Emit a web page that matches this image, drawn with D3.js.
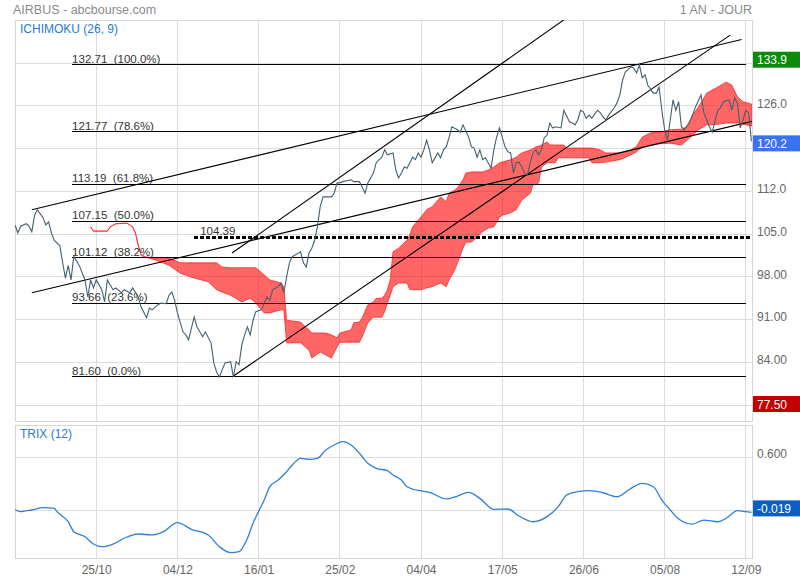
<!DOCTYPE html>
<html>
<head>
<meta charset="utf-8">
<script src="https://cdn.jsdelivr.net/npm/d3@7"></script>
<style>
  body { margin: 0; background: #fff; }
  svg text { font-family: Arial, "Liberation Sans", sans-serif; }
</style>
</head>
<body>
<div class="graph"></div>
<script>
const w = 800;
const h = 580;
const left = 15, right = 752;
const main = {top: 20, bottom: 421};
const low = {top: 425, bottom: 558};

// daily closes: [trading day, price]
const closes = [[0,106.5],[1,105.2],[2,106.3],[4,106.7],[5,106.3],[6,105.4],[7,108.1],[8,109.0],[10,107.7],[11,106.5],[12,107.0],[13,105.2],[14,104.0],[16,103.1],[17,100.4],[18,97.8],[19,99.9],[20,97.5],[21,101.4],[23,99.8],[25,97.5],[26,94.7],[27,97.5],[28,96.2],[29,97.5],[31,95.9],[32,93.9],[33,97.5],[35,95.9],[36,96.2],[38,95.4],[39,95.9],[41,95.4],[42,96.2],[44,94.7],[45,93.1],[47,91.3],[48,92.9],[49,92.6],[51,93.4],[52,93.7],[54,93.6],[55,95.0],[56,95.5],[57,94.2],[58,92.1],[60,89.0],[61,88.5],[62,87.7],[63,89.6],[64,91.4],[65,89.8],[67,88.2],[68,89.0],[70,87.2],[71,83.9],[72,82.4],[73,81.6],[74,82.8],[75,83.9],[77,84.1],[78,81.6],[79,84.1],[80,83.6],[81,86.9],[82,88.5],[83,89.8],[84,88.5],[85,90.9],[86,92.3],[88,92.6],[89,93.7],[90,94.7],[91,94.2],[92,95.9],[94,96.4],[95,97.0],[96,95.4],[97,98.0],[98,100.3],[99,101.3],[102,102.1],[103,100.3],[104,99.6],[105,101.9],[106,102.7],[107,104.0],[108,106.2],[109,109.5],[110,111.1],[113,111.1],[114,111.7],[115,113.4],[116,113.4],[117,113.6],[120,113.9],[121,113.6],[123,113.6],[124,112.7],[125,111.7],[126,113.4],[128,115.0],[129,116.7],[130,117.2],[131,117.6],[132,118.8],[133,118.0],[135,118.3],[136,115.5],[137,114.2],[138,115.0],[139,116.0],[140,115.8],[141,116.7],[142,117.6],[143,117.2],[144,118.3],[145,117.6],[146,118.8],[147,120.4],[148,118.8],[149,116.7],[151,118.3],[152,117.5],[153,118.8],[154,119.3],[155,120.8],[156,122.6],[158,122.1],[159,121.7],[160,122.9],[162,120.9],[163,119.3],[164,119.1],[165,117.6],[166,118.8],[167,117.2],[168,117.5],[170,115.8],[171,118.8],[172,120.9],[173,122.4],[174,120.9],[175,119.3],[176,118.5],[177,118.3],[178,115.0],[179,116.7],[180,116.8],[181,116.0],[182,115.0],[183,114.7],[184,116.7],[185,118.3],[186,118.8],[187,118.0],[188,118.8],[189,120.8],[190,121.2],[191,123.2],[192,122.4],[193,122.6],[195,122.4],[196,125.3],[198,123.4],[199,123.2],[200,122.9],[201,123.7],[202,125.3],[203,125.0],[204,124.0],[205,124.5],[206,124.0],[208,125.3],[209,124.9],[210,124.2],[211,123.7],[212,124.5],[214,125.7],[215,126.5],[216,127.8],[217,130.3],[218,131.6],[220,132.4],[221,132.2],[222,131.4],[223,132.7],[224,130.6],[225,131.1],[226,129.4],[228,128.1],[229,128.1],[230,129.1],[231,125.3],[232,122.1],[233,120.4],[234,123.7],[235,127.0],[236,125.3],[237,126.7],[238,122.6],[239,122.1],[241,123.4],[243,125.8],[245,127.8],[246,124.9],[248,122.6],[249,121.7],[251,125.3],[252,125.7],[253,126.7],[255,127.0],[256,125.3],[257,127.3],[258,126.5],[259,122.4],[260,123.7],[261,125.3],[262,124.9],[263,120.2]];

// ichimoku cloud: [day, upper span, lower span]
const cloud = [[27,106.2,106.2],[28,105.5,105.5],[33,105.5,105.5],[34,106.2,106.2],[36,106.7,106.7],[40,106.8,106.8],[42,106.2,106.2],[43,105.2,105.2],[44,103.2,103.2],[45,101.6,101.6],[46,101.3,101.3],[50,101.1,100.8],[55,101.1,99.9],[59,100.3,98.6],[64,100.3,97.8],[69,100.3,97.2],[72,100.3,95.9],[74,99.6,95.5],[77,99.5,95.0],[81,99.5,93.9],[84,99.5,94.5],[86,99.5,93.7],[89,98.3,92.1],[91,97.5,92.1],[95,97.0,92.6],[96,96.4,92.6],[97,90.9,87.2],[102,90.6,87.2],[103,90.1,86.8],[105,89.3,86.0],[106,88.8,84.7],[109,88.8,85.7],[111,88.8,85.2],[113,88.5,84.7],[115,88.0,86.5],[116,88.8,87.3],[120,89.3,87.3],[121,90.5,87.3],[123,90.6,87.3],[124,91.3,88.2],[126,93.4,90.5],[128,93.9,91.4],[129,94.5,91.4],[131,94.5,91.4],[132,95.0,92.3],[133,95.9,93.7],[134,97.5,95.0],[135,102.1,96.4],[137,102.7,97.0],[139,103.6,97.0],[140,104.0,97.0],[141,104.9,95.9],[142,106.2,95.9],[145,107.8,95.9],[147,109.0,96.2],[149,109.5,96.4],[152,111.1,97.0],[154,110.3,96.4],[155,111.7,97.5],[157,112.2,99.1],[158,112.6,100.3],[160,113.9,102.7],[161,115.0,103.7],[163,115.2,103.7],[165,115.2,104.5],[167,115.2,105.4],[169,115.5,106.0],[171,116.0,106.2],[173,116.7,107.7],[174,116.8,108.1],[177,117.2,108.5],[179,117.6,109.0],[180,118.0,109.8],[181,118.3,110.6],[184,118.8,111.7],[185,119.0,113.1],[186,119.3,113.1],[187,119.4,113.4],[188,119.6,116.0],[190,120.1,116.7],[191,119.6,116.7],[193,119.6,116.7],[194,119.6,117.5],[196,119.6,117.5],[197,119.1,117.5],[205,119.1,117.5],[206,119.1,116.7],[209,118.8,116.7],[211,118.3,116.8],[216,118.3,117.2],[220,118.8,118.0],[222,119.4,118.5],[224,120.9,119.3],[227,121.6,119.6],[230,121.7,119.8],[234,122.1,119.9],[238,122.2,119.6],[240,122.6,120.4],[242,124.5,121.2],[244,125.8,122.1],[246,127.3,122.6],[247,128.1,122.9],[251,129.1,123.0],[254,129.9,123.2],[256,129.4,123.2],[258,127.5,123.2],[260,126.7,123.0],[263,126.3,122.7]];

// TRIX (12): [day, value]
const trix = [[0,0.01],[2,-0.011],[4,0.0],[6,0.008],[10,0.034],[14,0.027],[15,-0.011],[19,-0.124],[21,-0.236],[25,-0.292],[28,-0.375],[31,-0.405],[35,-0.375],[39,-0.31],[44,-0.262],[49,-0.273],[53,-0.236],[58,-0.135],[63,-0.209],[69,-0.273],[73,-0.405],[77,-0.472],[80,-0.461],[83,-0.31],[85,-0.142],[89,0.12],[91,0.27],[94,0.345],[97,0.438],[99,0.514],[102,0.589],[105,0.578],[108,0.589],[111,0.683],[114,0.739],[117,0.776],[120,0.739],[123,0.646],[126,0.533],[129,0.477],[133,0.45],[135,0.402],[138,0.345],[140,0.27],[145,0.222],[148,0.207],[154,0.132],[158,0.165],[162,0.207],[166,0.139],[171,0.016],[176,0.019],[180,-0.06],[185,-0.124],[190,-0.067],[194,0.045],[197,0.177],[201,0.214],[205,0.225],[210,0.202],[215,0.157],[220,0.252],[224,0.308],[228,0.27],[231,0.12],[234,0.008],[237,-0.093],[242,-0.15],[246,-0.105],[251,-0.124],[254,-0.085],[258,0.0],[261,-0.011],[263,-0.019]];

const fibLevels = [132.71, 121.77, 113.19, 107.15, 101.12, 93.66, 81.60];
const fibPcts = ["100.0%", "78.6%", "61.8%", "50.0%", "38.2%", "23.6%", "0.0%"];
const fibSpan = [20.4, 261];

const support = 104.39;
const supportFrom = 64;

// trend lines: [[day, price], [day, price]]
const trendLines = [
  [[6, 109.0], [259.5, 136.9]],
  [[6, 95.4], [263.4, 123.5]],
  [[77.5, 81.6], [255.4, 137.6]],
  [[77.5, 101.9], [205, 143.0]]
];

const tickDays = [29, 58, 87, 116, 145, 174, 203, 232, 261];
const tickLabels = ["25/10", "04/12", "16/01", "25/02", "04/04", "17/05", "26/06", "05/08", "12/09"];
const priceGrid = [77, 84, 91, 98, 105, 112, 119, 126, 133];
const priceLabels = [84, 91, 98, 105, 112, 126];
const trixGrid = [0, 0.6];
const trixLabels = [0.6];

const boxes = [
  {v: 133.9, text: "133.9", color: "#0c8a0c"},
  {v: 120.2, text: "120.2", color: "#3a72f2"},
  {v: 77.5, text: "77.50", color: "#c20000"}
];
const trixBox = {v: -0.019, text: "-0.019", color: "#0b5ec6"};

const x = d3.scaleLinear().domain([0, 263.2]).range([left, right]);
const y = d3.scaleLinear().domain([74.39, 140.08]).range([main.bottom, main.top]);
const yt = d3.scaleLinear().domain([-0.532, 0.964]).range([low.bottom, low.top]);

const canvas = d3.select(".graph")
                 .append("svg")
                 .attr("width", w)
                 .attr("height", h);

const defs = canvas.append("defs");
defs.append("clipPath").attr("id", "clipMain")
    .append("rect").attr("x", left).attr("y", main.top)
    .attr("width", right - left).attr("height", main.bottom - main.top);
defs.append("clipPath").attr("id", "clipLow")
    .append("rect").attr("x", left).attr("y", low.top)
    .attr("width", right - left).attr("height", low.bottom - low.top);

// header
canvas.append("text").attr("x", 13).attr("y", 14)
      .attr("fill", "#8a8a8a").attr("font-size", 12.5)
      .text("AIRBUS - abcbourse.com");
canvas.append("text").attr("x", right).attr("y", 14)
      .attr("text-anchor", "end")
      .attr("fill", "#8a8a8a").attr("font-size", 12.5)
      .text("1 AN - JOUR");

// grids
const grid = canvas.append("g")
                   .attr("stroke", "#dcdcdc").attr("stroke-width", 1)
                   .attr("shape-rendering", "crispEdges");
grid.selectAll(".vm").data(tickDays).enter().append("line")
    .attr("x1", d => x(d)).attr("x2", d => x(d))
    .attr("y1", main.top).attr("y2", main.bottom);
grid.selectAll(".vl").data(tickDays).enter().append("line")
    .attr("x1", d => x(d)).attr("x2", d => x(d))
    .attr("y1", low.top).attr("y2", low.bottom);
grid.selectAll(".hm").data(priceGrid).enter().append("line")
    .attr("x1", left).attr("x2", right)
    .attr("y1", d => y(d)).attr("y2", d => y(d));
grid.selectAll(".hl").data(trixGrid).enter().append("line")
    .attr("x1", left).attr("x2", right)
    .attr("y1", d => yt(d)).attr("y2", d => yt(d));

canvas.append("rect").attr("x", left).attr("y", main.top)
      .attr("width", right - left).attr("height", main.bottom - main.top)
      .attr("fill", "none").attr("stroke", "#d6d6d6")
      .attr("shape-rendering", "crispEdges");
canvas.append("rect").attr("x", left).attr("y", low.top)
      .attr("width", right - left).attr("height", low.bottom - low.top)
      .attr("fill", "none").attr("stroke", "#d6d6d6")
      .attr("shape-rendering", "crispEdges");

const plot = canvas.append("g").attr("clip-path", "url(#clipMain)");

// cloud
const area = d3.area()
               .x(d => x(d[0]))
               .y0(d => y(d[2]))
               .y1(d => y(d[1]));
plot.append("path")
    .datum(cloud)
    .attr("d", area)
    .attr("fill", "rgba(255,0,0,0.6)")
    .attr("stroke", "rgba(255,30,30,0.75)")
    .attr("stroke-width", 1);

// fibonacci retracement
plot.selectAll(".fib").data(fibLevels).enter().append("line")
    .attr("x1", x(fibSpan[0])).attr("x2", x(fibSpan[1]))
    .attr("y1", d => y(d)).attr("y2", d => y(d))
    .attr("stroke", "#000").attr("stroke-width", 1)
    .attr("shape-rendering", "crispEdges");
plot.selectAll(".fibtxt").data(fibLevels).enter().append("text")
    .attr("x", x(fibSpan[0]))
    .attr("y", d => y(d) - 2)
    .attr("font-size", 11.5).attr("fill", "#333")
    .style("white-space", "pre")
    .text((d, i) => d.toFixed(2) + "  (" + fibPcts[i] + ")");

// support level
plot.append("line")
    .attr("x1", x(supportFrom)).attr("x2", right)
    .attr("y1", y(support)).attr("y2", y(support))
    .attr("stroke", "#000").attr("stroke-width", 3)
    .attr("stroke-dasharray", "3.5,2.5")
    .attr("shape-rendering", "crispEdges");
plot.append("text")
    .attr("x", x(supportFrom) + 6).attr("y", y(support) - 3)
    .attr("font-size", 11.5).attr("fill", "#333")
    .text(support.toFixed(2));

// trend lines
plot.selectAll(".trend").data(trendLines).enter().append("line")
    .attr("x1", d => x(d[0][0])).attr("y1", d => y(d[0][1]))
    .attr("x2", d => x(d[1][0])).attr("y2", d => y(d[1][1]))
    .attr("stroke", "#000").attr("stroke-width", 1.1);

// price
const line = d3.line().x(d => x(d[0])).y(d => y(d[1]));
plot.append("path")
    .datum(closes)
    .attr("d", line)
    .attr("fill", "none")
    .attr("stroke", "#42606f")
    .attr("stroke-width", 1.1);

// trix
canvas.append("g").attr("clip-path", "url(#clipLow)")
      .append("path")
      .datum(trix)
      .attr("d", d3.line().x(d => x(d[0])).y(d => yt(d[1])).curve(d3.curveMonotoneX))
      .attr("fill", "none")
      .attr("stroke", "#2f7fd6")
      .attr("stroke-width", 1.3);

// panel titles
canvas.append("text").attr("x", 20).attr("y", 33)
      .attr("fill", "#2a7bd1").attr("font-size", 12)
      .text("ICHIMOKU (26, 9)");
canvas.append("text").attr("x", 20).attr("y", 438)
      .attr("fill", "#2a7bd1").attr("font-size", 12)
      .text("TRIX (12)");

// axes
const priceAxis = canvas.append("g")
      .attr("transform", `translate(${right},0)`)
      .call(d3.axisRight(y).tickValues(priceLabels).tickFormat(d3.format(".4r")).tickSize(0).tickPadding(5));
const trixAxis = canvas.append("g")
      .attr("transform", `translate(${right},0)`)
      .call(d3.axisRight(yt).tickValues(trixLabels).tickFormat(d3.format(".3f")).tickSize(0).tickPadding(5));
const dateAxis = canvas.append("g")
      .attr("transform", `translate(0,${low.bottom})`)
      .call(d3.axisBottom(x).tickValues(tickDays).tickFormat((d, i) => tickLabels[i]).tickSize(0).tickPadding(7));
[priceAxis, trixAxis, dateAxis].forEach(function(a) {
  a.select(".domain").remove();
  a.selectAll("text").attr("fill", "#666").attr("font-size", 12)
   .attr("font-family", "Arial, 'Liberation Sans', sans-serif");
});
priceAxis.selectAll("text").attr("dy", "0.1em");
trixAxis.selectAll("text").attr("dy", "0.05em");

// last value boxes
function valueBox(yy, b) {
  const g = canvas.append("g");
  g.append("rect").attr("x", right + 1).attr("y", yy - 8)
   .attr("width", w - right - 1).attr("height", 16)
   .attr("fill", b.color);
  g.append("text").attr("x", right + 5).attr("y", yy + 4.5)
   .attr("fill", "#fff").attr("font-size", 12)
   .text(b.text);
}
boxes.forEach(b => valueBox(y(b.v) + 2, b));
valueBox(yt(trixBox.v) - 4, trixBox);
</script>
</body>
</html>
